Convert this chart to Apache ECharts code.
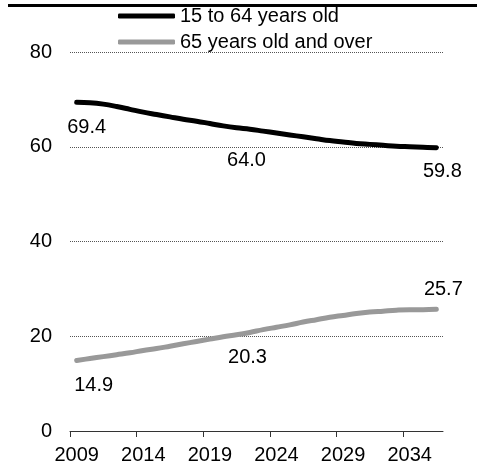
<!DOCTYPE html>
<html>
<head>
<meta charset="utf-8">
<script src="https://cdn.jsdelivr.net/npm/echarts@6/dist/echarts.min.js"></script>
<style>
  html, body { margin: 0; padding: 0; background: #fff; }
  #chart { width: 479px; height: 469px; }
</style>
</head>
<body>
<div id="chart"></div>
<script>
// Share of population by age group (%), yearly
const years = [2009, 2010, 2011, 2012, 2013, 2014, 2015, 2016, 2017, 2018, 2019, 2020, 2021, 2022,
               2023, 2024, 2025, 2026, 2027, 2028, 2029, 2030, 2031, 2032, 2033, 2034, 2035, 2036];
const workingAge = [69.4, 69.3, 69.0, 68.5, 67.9, 67.3, 66.8, 66.3, 65.8, 65.4, 64.9, 64.4, 64.0, 63.7,
                    63.3, 62.9, 62.5, 62.1, 61.7, 61.3, 61.0, 60.7, 60.5, 60.3, 60.1, 60.0, 59.9, 59.8];
const elderly = [14.9, 15.3, 15.7, 16.1, 16.5, 17.0, 17.4, 17.9, 18.4, 18.9, 19.4, 19.9, 20.3, 20.8,
                 21.4, 21.9, 22.4, 23.0, 23.5, 24.0, 24.4, 24.8, 25.1, 25.3, 25.5, 25.6, 25.6, 25.7];
const seriesNames = ['15 to 64 years old', '65 years old and over'];
const yTicks = [0, 20, 40, 60, 80];

// years whose values are written next to the lines, and where each label sits
const labelledIndex = [0, 12, 27];
const workingLabelOffsets = [[10, 25], [10, 33], [6, 24]];
const elderlyLabelOffsets = [[17, 25], [11, 23], [7, -20]];

// tick marks fall on the boundaries between yearly bands, one every five years
const bandEdges = years.concat([years[years.length - 1] + 1]).map(function (y) { return String(y - 0.5); });

const FONT = "'Liberation Sans', Arial, sans-serif";

function withLabels(values, offsets) {
  return values.map(function (v, i) {
    const k = labelledIndex.indexOf(i);
    if (k < 0) return v;
    return {
      value: v,
      label: {
        show: true,
        position: 'inside',
        offset: offsets[k],
        formatter: function (p) { return p.value.toFixed(1); },
        color: '#000',
        fontSize: 20,
        fontFamily: FONT
      }
    };
  });
}

const chart = echarts.init(document.getElementById('chart'), null, { renderer: 'canvas' });

chart.setOption({
  animation: false,
  backgroundColor: '#fff',
  textStyle: { fontFamily: FONT },
  graphic: [{
    type: 'rect',
    shape: { x: 8, y: 4, width: 469, height: 3 },
    style: { fill: '#000' },
    silent: true
  }],
  legend: {
    orient: 'vertical',
    left: 118,
    top: 6,
    padding: 0,
    itemGap: 6,
    itemWidth: 57,
    itemHeight: 5,
    icon: 'roundRect',
    textStyle: { fontSize: 20, color: '#000', fontFamily: FONT },
    data: [
      { name: seriesNames[0], itemStyle: { color: '#000' } },
      { name: seriesNames[1], itemStyle: { color: '#999' } }
    ]
  },
  grid: { left: 70, right: 36, top: 52, bottom: 38, containLabel: false },
  xAxis: [
    {
      type: 'category',
      position: 'bottom',
      data: years.map(String),
      boundaryGap: true,
      axisLine: { show: true, lineStyle: { color: '#333', width: 1 } },
      axisTick: { show: false },
      axisLabel: { interval: 4, margin: 14, fontSize: 20, color: '#000', fontFamily: FONT },
      splitLine: { show: false }
    },
    {
      type: 'category',
      position: 'bottom',
      data: bandEdges,
      boundaryGap: false,
      axisLine: { show: false },
      axisTick: { show: true, interval: 4, length: 6, lineStyle: { color: '#333', width: 1 } },
      axisLabel: { show: false, interval: 4 },
      splitLine: { show: false }
    }
  ],
  yAxis: {
    type: 'value',
    min: yTicks[0],
    max: yTicks[yTicks.length - 1],
    interval: 20,
    axisLine: { show: false },
    axisTick: { show: false },
    axisLabel: { margin: 18, fontSize: 20, color: '#000', fontFamily: FONT },
    splitLine: { show: true, lineStyle: { color: '#555', width: 1, type: [1, 1] } }
  },
  series: [
    {
      name: seriesNames[0],
      type: 'line',
      xAxisIndex: 0,
      data: withLabels(workingAge, workingLabelOffsets),
      smooth: 0.4,
      symbol: 'circle',
      symbolSize: 0,
      showSymbol: true,
      color: '#000',
      lineStyle: { color: '#000', width: 5, cap: 'round', join: 'round' },
      z: 3
    },
    {
      name: seriesNames[1],
      type: 'line',
      xAxisIndex: 0,
      data: withLabels(elderly, elderlyLabelOffsets),
      smooth: 0.4,
      symbol: 'circle',
      symbolSize: 0,
      showSymbol: true,
      color: '#999',
      lineStyle: { color: '#999', width: 5, cap: 'round', join: 'round' },
      z: 2
    }
  ]
});
</script>
</body>
</html>
